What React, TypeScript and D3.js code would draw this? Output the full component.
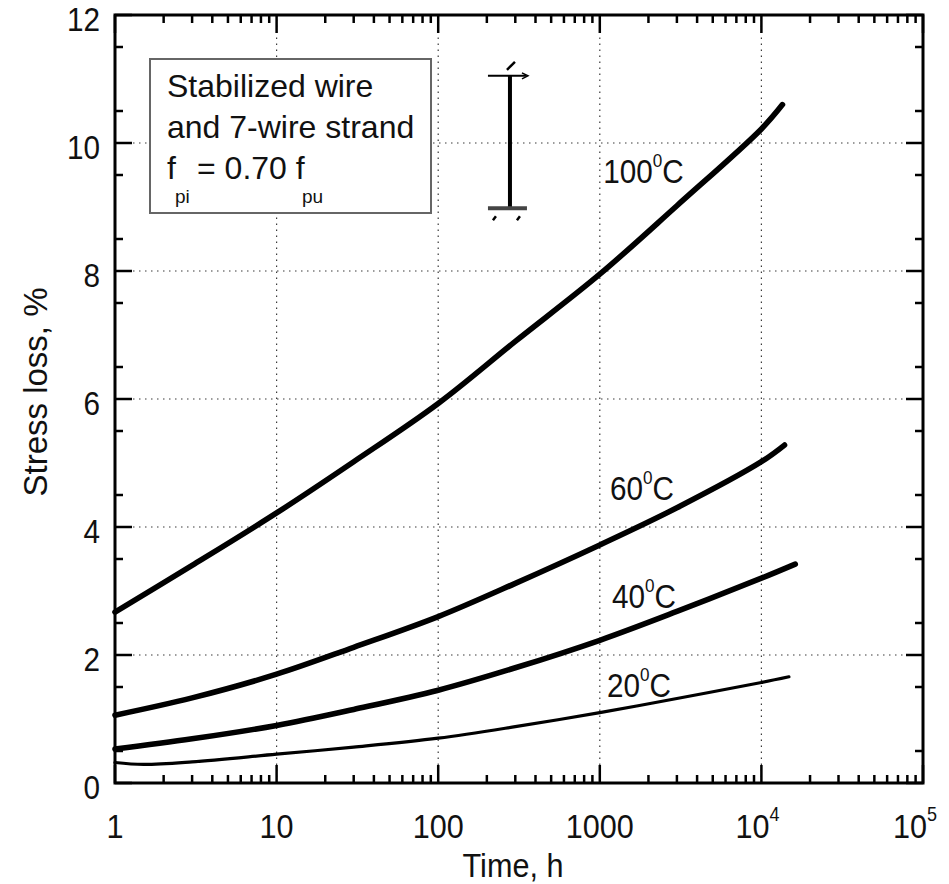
import React from "react";
import * as d3 from "d3";

const W = 949;
const H = 884;
const FONT = "'Liberation Sans', Arial, Helvetica, sans-serif";

// curves: time in hours, stress loss in %
const hours100 = [1, 3, 10, 30, 100, 300, 1000, 3000, 10000, 13500];
const loss100 = [2.67, 3.4, 4.22, 5.02, 5.93, 6.9, 7.95, 9.02, 10.22, 10.6];
const hours60 = [1, 3, 10, 30, 100, 300, 1000, 3000, 10000, 13900];
const loss60 = [1.06, 1.33, 1.7, 2.12, 2.6, 3.12, 3.72, 4.3, 5.02, 5.28];
const hours40 = [1, 3, 10, 30, 100, 300, 1000, 3000, 10000, 16200];
const loss40 = [0.53, 0.69, 0.9, 1.15, 1.45, 1.8, 2.23, 2.68, 3.2, 3.42];
const hours20 = [1, 1.5, 3, 10, 30, 100, 300, 1000, 3000, 10000, 14800];
const loss20 = [0.32, 0.29, 0.33, 0.45, 0.56, 0.7, 0.88, 1.1, 1.32, 1.57, 1.66];

const temps = ["100", "60", "40", "20"];
// where each temperature label sits (hours, % at baseline)
const labelHours = [1050, 1156, 1190, 1109];
const labelLoss = [9.38, 4.42, 2.73, 1.34];

const yTicks = [0, 2, 4, 6, 8, 10, 12];
const xDecades = [0, 1, 2, 3, 4, 5];
const xTickLabels = ["1", "10", "100", "1000", "10", "10"];
const xTickSups = ["", "", "", "", "4", "5"];

// scatter band marker near top of the plot
const bandHours = 278;
const bandLow = 8.98;
const bandHigh = 11.05;

const legendLines = ["Stabilized wire", "and 7-wire strand"];

export default function App() {
  const x = d3.scaleLog().domain([1, 1e5]).range([115, 923]);
  const y = d3.scaleLinear().domain([0, 12]).range([783, 15]);

  const series = [
    [hours100, loss100],
    [hours60, loss60],
    [hours40, loss40],
    [hours20, loss20],
  ];
  const line = d3
    .line<[number, number]>()
    .x((d) => x(d[0]))
    .y((d) => y(d[1]))
    .curve(d3.curveCatmullRom.alpha(0.5));

  const minorX: number[] = [];
  for (let e = 0; e < 5; e++) for (let m = 2; m <= 9; m++) minorX.push(m * Math.pow(10, e));
  const minorY = d3.range(0.5, 12, 1);

  const [x0, x1] = x.range();
  const [yb, yt] = y.range();
  const grid = "#3a3a3a";

  const bx = x(bandHours);

  return (
    <svg width={W} height={H} style={{ position: "absolute", left: 0, top: 0, background: "#fff" }} fontFamily={FONT}>
      {/* grid */}
      <g stroke={grid} strokeWidth={1.2} strokeDasharray="1.5,4.5">
        {xDecades.slice(1, -1).map((e) => (
          <line key={"gx" + e} x1={x(Math.pow(10, e))} x2={x(Math.pow(10, e))} y1={yb} y2={yt} />
        ))}
        {yTicks.slice(1, -1).map((v) => (
          <line key={"gy" + v} x1={x0} x2={x1} y1={y(v)} y2={y(v)} />
        ))}
      </g>

      {/* ticks */}
      <g stroke="#000" strokeWidth={2.5}>
        {minorX.map((v) => (
          <g key={"mx" + v}>
            <line x1={x(v)} x2={x(v)} y1={yb} y2={yb - 8} />
            <line x1={x(v)} x2={x(v)} y1={yt} y2={yt + 8} />
          </g>
        ))}
        {xDecades.map((e) => (
          <g key={"Mx" + e}>
            <line x1={x(Math.pow(10, e))} x2={x(Math.pow(10, e))} y1={yb} y2={yb - 18} />
            <line x1={x(Math.pow(10, e))} x2={x(Math.pow(10, e))} y1={yt} y2={yt + 18} />
          </g>
        ))}
        {minorY.map((v) => (
          <g key={"my" + v}>
            <line x1={x0} x2={x0 + 8} y1={y(v)} y2={y(v)} />
            <line x1={x1} x2={x1 - 8} y1={y(v)} y2={y(v)} />
          </g>
        ))}
        {yTicks.map((v) => (
          <g key={"My" + v}>
            <line x1={x0} x2={x0 + 17} y1={y(v)} y2={y(v)} />
            <line x1={x1} x2={x1 - 17} y1={y(v)} y2={y(v)} />
          </g>
        ))}
      </g>

      {/* legend box */}
      <rect x={150} y={59} width={281} height={154} fill="#fff" stroke="#666" strokeWidth={2} />
      <g fontSize={32} fill="#111">
        {legendLines.map((t, i) => (
          <text key={t} x={167} y={97 + i * 41}>{t}</text>
        ))}
        <text x={167} y={179}>f</text>
        <text x={175} y={203} fontSize={19}>pi</text>
        <text x={197} y={179}>= 0.70 f</text>
        <text x={302} y={203} fontSize={19}>pu</text>
      </g>

      {/* band marker */}
      <g stroke="#000">
        <line x1={bx} x2={bx} y1={y(bandHigh)} y2={y(bandLow)} strokeWidth={4} />
        <line x1={bx - 22} x2={bx + 16} y1={y(bandHigh)} y2={y(bandHigh)} strokeWidth={2} />
        <path d={`M${bx + 12},${y(bandHigh) - 3} L${bx + 18},${y(bandHigh)} L${bx + 12},${y(bandHigh) + 3}`} fill="none" strokeWidth={1.5} />
        <line x1={bx - 3} x2={bx + 5} y1={y(bandHigh) - 6} y2={y(bandHigh) - 14} strokeWidth={2.5} />
        <line x1={bx - 22} x2={bx + 17} y1={y(bandLow)} y2={y(bandLow)} strokeWidth={4} stroke="#444" />
        <line x1={bx - 17} x2={bx - 14} y1={y(bandLow) + 12} y2={y(bandLow) + 8} strokeWidth={2.5} />
        <line x1={bx + 7} x2={bx + 10} y1={y(bandLow) + 12} y2={y(bandLow) + 8} strokeWidth={2.5} />
      </g>

      {/* curves */}
      <g fill="none" stroke="#000" strokeLinecap="round">
        {series.map(([hs, ls], i) => (
          <path
            key={temps[i]}
            d={line(hs.map((h, j) => [h, ls[j]] as [number, number])) || ""}
            strokeWidth={i === 3 ? 3.2 : 5.6}
          />
        ))}
      </g>

      {/* curve labels */}
      {temps.map((t, i) => (
        <text key={"lab" + t} transform={`translate(${x(labelHours[i])},${y(labelLoss[i])}) scale(0.9,1)`} fontSize={33} fill="#111">
          {t}
          <tspan fontSize={19} dy={-16}>0</tspan>
          <tspan dy={16}>C</tspan>
        </text>
      ))}

      {/* frame */}
      <rect x={x0} y={yt} width={x1 - x0} height={yb - yt} fill="none" stroke="#000" strokeWidth={3} />

      {/* y tick labels */}
      {yTicks.map((v) => (
        <text key={"yl" + v} transform={`translate(100,${y(v) + 16}) scale(0.9,1)`} textAnchor="end" fontSize={33} fill="#111">
          {v}
        </text>
      ))}

      {/* x tick labels */}
      {xDecades.map((e, i) => (
        <text
          key={"xl" + e}
          transform={`translate(${x(Math.pow(10, e)) + (xTickSups[i] ? (e === 5 ? -8 : -4) : 0)},838) scale(0.9,1)`}
          textAnchor="middle"
          fontSize={34}
          fill="#111"
        >
          {xTickLabels[i]}
          {xTickSups[i] && (
            <tspan fontSize={20} dy={-17}>{xTickSups[i]}</tspan>
          )}
        </text>
      ))}

      {/* axis titles */}
      <text transform="translate(513,877) scale(0.9,1)" textAnchor="middle" fontSize={34} fill="#111">
        Time, h
      </text>
      <text transform="translate(47,392) rotate(-90)" textAnchor="middle" fontSize={33} fill="#111">
        Stress loss, %
      </text>
    </svg>
  );
}
